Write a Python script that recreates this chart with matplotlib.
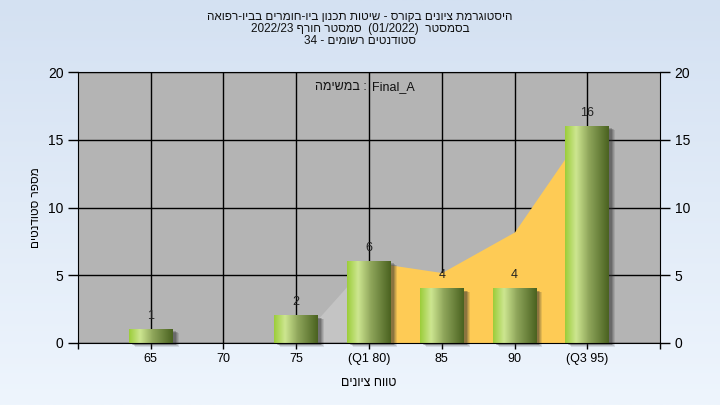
import re
import matplotlib
matplotlib.use('Agg')
import matplotlib.pyplot as plt
import matplotlib.transforms as mtransforms
from matplotlib.colors import LinearSegmentedColormap
from matplotlib.patches import Rectangle
import numpy as np

grades = ['65', '70', '75', '(Q1 80)', '85', '90', '(Q3 95)']
students = [1, 0, 2, 6, 4, 4, 16]

# shaded area behind the bars: light part below Q1, orange from Q1 to Q3
area_low_x = [2, 3]
area_low_y = [0, 6]
area_x = [3, 4, 5, 6]
area_y = [6, 5.2, 8.2, 16]

title_lines = ['היסטוגרמת ציונים בקורס - שיטות תכנון ביו-חומרים בביו-רפואה',
               'בסמסטר  (01/2022)  סמסטר חורף 2022/23',
               'סטודנטים רשומים - 34']
task_label = 'במשימה'
task_name = 'Final_A'
x_title = 'טווח ציונים'
y_title = 'מספר סטודנטים'


def rtl(s):
    # no bidi in matplotlib -> flip the string, keep latin/digit runs readable
    parts = re.findall(r'[0-9A-Za-z_/.]+|.', s)
    out = []
    for p in reversed(parts):
        if p == '(':
            p = ')'
        elif p == ')':
            p = '('
        out.append(p)
    return ''.join(out)


plt.rcParams['font.family'] = ['Liberation Sans', 'DejaVu Sans']

fig = plt.figure(figsize=(7.2, 4.05), dpi=100)

# light blue gradient behind everything
bg = fig.add_axes([0, 0, 1, 1], zorder=-10)
grad = np.linspace(0, 1, 256).reshape(-1, 1)
bg_cmap = LinearSegmentedColormap.from_list('bg', ['#d4e1f2', '#eef5fd'])
bg.imshow(grad, cmap=bg_cmap, aspect='auto', extent=[0, 1, 0, 1])
bg.axis('off')

ax = fig.add_axes([0.1083, 0.1531, 0.8084, 0.6691])
ax.set_facecolor('#b4b4b4')

x = np.arange(len(grades))

ax.fill_between(area_low_x, 0, area_low_y, color='#c4c4c4', lw=0, zorder=1)
ax.fill_between(area_x, 0, area_y, color='#fecb55', lw=0, zorder=3)

bars = ax.bar(x, students, width=0.6, facecolor='none', edgecolor='none', zorder=5)

bar_cmap = LinearSegmentedColormap.from_list(
    'cyl', [(0.0, '#9ccd3a'), (0.25, '#cde690'), (0.55, '#8ea55a'), (1.0, '#4a6220')])
cyl = np.linspace(0, 1, 128).reshape(1, -1)

for b, v in zip(bars, students):
    if v == 0:
        continue
    x0, w = b.get_x(), b.get_width()
    # soft shadow to the lower right
    for k, a in [(6, 0.12), (5, 0.15), (4, 0.2), (3, 0.25)]:
        tr = mtransforms.offset_copy(ax.transData, fig, x=k, y=-k * 0.6, units='dots')
        ax.add_patch(Rectangle((x0, 0), w, v, facecolor='#303030', alpha=a,
                               lw=0, transform=tr, zorder=4, clip_on=False))
    ax.imshow(cyl, cmap=bar_cmap, aspect='auto', extent=[x0, x0 + w, 0, v],
              zorder=6, interpolation='bilinear')
    ax.text(b.get_x() + w / 2, v + 0.55, str(v), ha='center', va='bottom',
            fontsize=9, color='#222222', zorder=7)

ax.set_xlim(-1, 7)
ax.set_ylim(0, 20)
ax.set_xticks(x)
ax.set_xticklabels(grades, fontsize=9)
ax.set_xticks([-1, 7], minor=True)
ax.set_yticks([0, 5, 10, 15, 20])
ax.tick_params(axis='y', labelsize=10, length=7, width=1, right=True, labelright=True)
ax.tick_params(axis='x', which='both', length=4, width=1)

ax.grid(True, color='black', lw=1)
for l in ax.get_xgridlines() + ax.get_ygridlines():
    l.set_zorder(2)
for s in ax.spines.values():
    s.set_color('black')
    s.set_zorder(8)

ax.set_xlabel(rtl(x_title), fontsize=9, labelpad=8)
ax.set_ylabel(rtl(y_title), fontsize=8.5, labelpad=4)

ax.text(0.4966, 0.945, rtl(task_label) + ' :', transform=ax.transAxes,
        ha='right', va='center', fontsize=9, color='#111111', zorder=9)
ax.text(0.505, 0.945, task_name, transform=ax.transAxes,
        ha='left', va='center', fontsize=9, color='#111111', zorder=9)

for i, line in enumerate(title_lines):
    fig.text(0.5, 1 - (17 + 12 * i) / 405, rtl(line), ha='center', va='center',
             fontsize=8.5, color='#111111')

fig.savefig('out.png', dpi=100)
